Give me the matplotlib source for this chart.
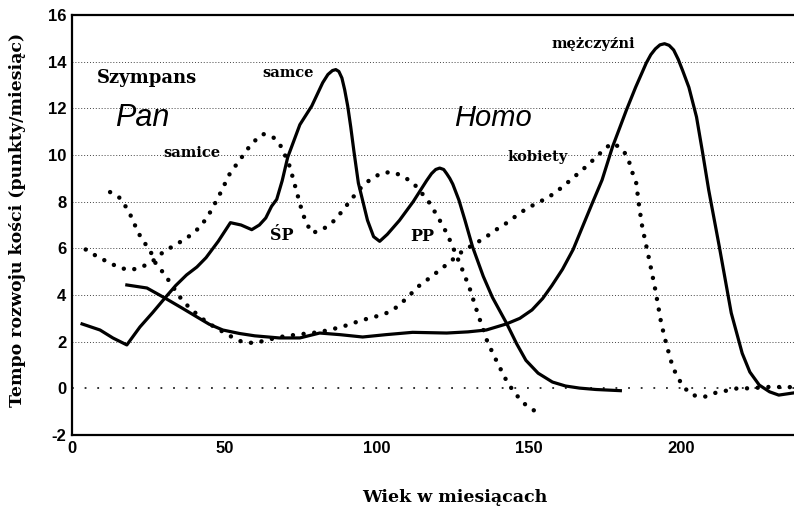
import matplotlib
matplotlib.use("Agg")
import matplotlib.pyplot as plt

plt.rcParams["axes.unicode_minus"] = False

# Pan (szympans) - samce, linia ciagla
pan_m_x = [3.3, 9.2, 13.4, 18, 22.3, 26.5, 30.5, 34, 37.6, 41, 44, 48, 52, 55.5, 59, 61.5, 63.6, 65.5, 67.2, 69,
           70.8, 72.8, 74.8, 78.7, 82.3, 84, 85.5, 86.6, 87.6, 88.6, 89.5, 90.5, 91.5, 92.5, 94, 97, 99, 101, 103.5,
           107.5, 112, 116.4, 118, 119.4, 120.7, 122, 123, 124, 125, 127, 129, 131.5, 135, 138, 142.6, 146, 149, 153,
           157.7, 162, 166.6, 172, 180]
pan_m_y = [2.76, 2.5, 2.16, 1.86, 2.63, 3.25, 3.87, 4.4, 4.86, 5.2, 5.6, 6.3, 7.1, 7.0, 6.8, 7.0, 7.3, 7.8, 8.1, 8.9,
           9.9, 10.6, 11.3, 12.1, 13.1, 13.45, 13.62, 13.66, 13.58, 13.3, 12.8, 12.1, 11.2, 10.2, 8.8, 7.2, 6.5, 6.3,
           6.6, 7.2, 8.0, 8.9, 9.2, 9.38, 9.44, 9.38, 9.2, 9.0, 8.75, 8.07, 7.2, 6.06, 4.8, 3.9, 2.8, 1.9, 1.2, 0.65,
           0.27, 0.1, 0.01, -0.05, -0.1]

# Pan - samice, kropki
pan_f_x = [4.5, 8.5, 12.5, 15.7, 19.3, 23, 27, 30, 33.8, 37.7, 41.3, 44.3, 48, 51.8, 56.7, 59, 62.7, 66, 68.8, 71.5,
           73.8, 75.7, 77, 78.7, 82, 85.6, 88.5, 91.5, 94.5, 97.7, 101.6, 105.2, 108.5, 112, 114.8, 117.4, 119.7, 121.6,
           123.3, 125, 127.9, 130.5, 132.8, 134.5, 136.4, 139.7, 143, 145.9, 149, 152.5]
pan_f_y = [5.95, 5.63, 5.37, 5.16, 5.07, 5.2, 5.5, 5.85, 6.14, 6.44, 6.83, 7.3, 8.18, 9.2, 10.08, 10.5, 10.9, 10.77,
           10.34, 9.5, 8.4, 7.5, 7.08, 6.66, 6.78, 7.13, 7.56, 8.07, 8.55, 8.93, 9.23, 9.27, 9.1, 8.8, 8.37, 7.94, 7.43,
           7.0, 6.57, 6.06, 5.16, 4.3, 3.36, 2.7, 1.98, 1.08, 0.23, -0.29, -0.72, -1.02]

# Homo - mezczyzni, linia ciagla
homo_m_x = [18, 24.6, 30.5, 36, 41, 45, 49.5, 55, 60, 68, 74.8, 81.3, 88, 95.4, 103, 111.8, 123, 130, 136, 142.6,
            147, 151, 154.5, 157.5, 161, 164.5, 167.5, 170.8, 174, 177.4, 182, 185, 188.5, 190, 191.5, 193, 194.5,
            196, 197.5, 199, 200.5, 202.5, 205, 207, 209, 212.5, 216.4, 220, 222.5, 225.6, 229, 232, 236.7]
homo_m_y = [4.43, 4.3, 3.87, 3.45, 3.06, 2.75, 2.5, 2.35, 2.25, 2.16, 2.16, 2.37, 2.3, 2.2, 2.3, 2.4, 2.37, 2.42, 2.5,
            2.76, 3.0, 3.36, 3.85, 4.4, 5.1, 5.95, 6.9, 7.94, 8.93, 10.34, 11.93, 12.9, 13.94, 14.3, 14.55, 14.72,
            14.77, 14.7, 14.5, 14.1, 13.6, 12.9, 11.63, 10.1, 8.5, 6.06, 3.23, 1.5, 0.7, 0.14, -0.15, -0.29, -0.2]

# Homo - kobiety, kropki
homo_f_x = [12.5, 15.7, 18.4, 20, 21.6, 23.6, 25.6, 27.2, 29.8, 32.8, 34.8, 37.7, 41.3, 44.6, 48.5, 52.5, 56, 60, 64,
            68.2, 73.7, 81.3, 88.5, 95.4, 99.3, 103.3, 106.6, 110.2, 113.4, 117.4, 120.7, 124, 128.2, 135.4, 139, 142.6,
            146.2, 149.5, 153.4, 157.4, 161, 164.3, 168.2, 172, 175.4, 178, 181.3, 183, 184, 185.2, 186.2, 187.2, 189.5,
            191.5, 193.4, 195, 197, 198.4, 200.7, 203.6, 207.5, 211, 214.8, 218.4, 222, 228.9, 237]
homo_f_y = [8.41, 8.16, 7.64, 7.2, 6.7, 6.27, 5.93, 5.41, 4.98, 4.43, 4.0, 3.57, 3.14, 2.8, 2.5, 2.2, 1.98, 1.94, 2.07,
            2.2, 2.3, 2.41, 2.63, 2.93, 3.06, 3.23, 3.48, 3.9, 4.34, 4.73, 5.07, 5.41, 5.88, 6.44, 6.78, 7.08, 7.43,
            7.73, 7.98, 8.28, 8.63, 9.0, 9.44, 9.9, 10.34, 10.5, 10.13, 9.66, 9.23, 8.8, 7.77, 6.91, 5.5, 4.21, 2.8,
            1.94, 1.0, 0.57, 0.06, -0.29, -0.37, -0.2, -0.1, 0.0, 0.0, 0.06, 0.05]

x_ticks = [0, 50, 100, 150, 200]
y_ticks = [-2, 0, 2, 4, 6, 8, 10, 12, 14, 16]

serif = "DejaVu Serif"
sans = "Liberation Sans"

fig = plt.figure(figsize=(7.94, 5.12), dpi=100)
ax = fig.add_axes([72 / 794, 77 / 512, 1 - 72 / 794, (435 - 15) / 512])

# siatka
for g in range(2, 16, 2):
    ax.axhline(g, color="#444444", lw=0.7, ls=(0, (1, 2)), zorder=1)
ax.axhline(0, color="#222222", lw=1.3, ls=(0, (1, 6)), zorder=1)

dots = dict(color="black", lw=3.2, ls=(0, (0.01, 2.4)), dash_capstyle="round", zorder=3)
ax.plot(pan_f_x, pan_f_y, **dots)
ax.plot(homo_f_x, homo_f_y, **dots)
ax.plot(pan_m_x, pan_m_y, color="black", lw=2.3, solid_joinstyle="round", zorder=4)
ax.plot(homo_m_x, homo_m_y, color="black", lw=2.3, solid_joinstyle="round", zorder=4)

ax.set_xlim(0, 237)
ax.set_ylim(-2, 16)
ax.set_xticks(x_ticks)
ax.set_yticks(y_ticks)
ax.tick_params(length=0, pad=4)
for lab in ax.get_xticklabels() + ax.get_yticklabels():
    lab.set_fontfamily(sans)
    lab.set_fontweight("bold")
    lab.set_fontsize(12)
ax.spines["right"].set_visible(False)
for s in ["left", "top", "bottom"]:
    ax.spines[s].set_linewidth(1.6)

ax.text(8.2, 13.3, "Szympans", family=serif, weight="bold", fontsize=13, va="center")
ax.text(14, 11.6, "Pan", family=sans, style="italic", fontsize=22, va="center")
ax.text(30, 10.1, "samice", family=serif, weight="bold", fontsize=10.5, va="center")
ax.text(62.6, 13.5, "samce", family=serif, weight="bold", fontsize=10.5, va="center")
ax.text(65, 6.55, "ŚP", family=serif, weight="bold", fontsize=11.5, va="center")
ax.text(111, 6.5, "PP", family=serif, weight="bold", fontsize=11.5, va="center")
ax.text(125.5, 11.6, "Homo", family=sans, style="italic", fontsize=21, va="center")
ax.text(143, 9.9, "kobiety", family=serif, weight="bold", fontsize=10.5, va="center")
ax.text(157.4, 14.75, "mężczyźni", family=serif, weight="bold", fontsize=10.5, va="center")

fig.text(455 / 794, 1 - 497 / 512, "Wiek w miesiącach", family=serif, weight="bold", fontsize=12.5,
         ha="center", va="center")
fig.text(18 / 794, 1 - 220 / 512, "Tempo rozwoju kości (punkty/miesiąc)", family=serif, weight="bold",
         fontsize=12.5, rotation=90, ha="center", va="center")

fig.savefig("out.png", dpi=100)
